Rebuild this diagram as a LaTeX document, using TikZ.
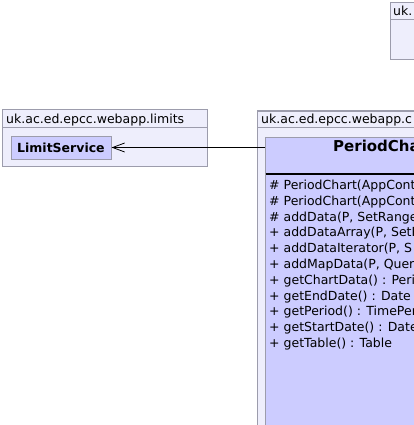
\documentclass[tikz,border=0pt]{standalone}
\usepackage{fontspec}
\setmainfont{DejaVu Sans}
\usetikzlibrary{arrows.meta}
\definecolor{pkgfill}{HTML}{EEEEFC}
\definecolor{clsfill}{HTML}{CCCCFF}
\definecolor{bord}{HTML}{9C9CAC}
\begin{document}
\begin{tikzpicture}[x=1pt,y=-1pt,
  pkg/.style={draw=bord, fill=pkgfill, line width=1pt},
  txt/.style={inner sep=0pt, anchor=base west, font=\fontsize{12.5}{15}\selectfont},
  btxt/.style={inner sep=0pt, anchor=base west, font=\fontsize{12.5}{15}\selectfont\bfseries},
  ttl/.style={inner sep=0pt, anchor=base west, font=\fontsize{15}{18}\selectfont\bfseries},
  clsbox/.style={draw=bord, fill=clsfill, line width=1pt, inner sep=0pt}]
\useasboundingbox (0,0) rectangle (414,425);
% top-right package
\draw[pkg] (390,3) rectangle (460,20);
\draw[pkg] (390,20) rectangle (460,60);
\node[txt] (pkgtop) at (393,16) {uk.};
% limits package
\draw[pkg] (2,110) rectangle (207,127);
\draw[pkg] (2,127) rectangle (207,166);
\node[txt] (pkglim) at (6,123.5) {uk.ac.ed.epcc.webapp.limits};
\node[clsbox, minimum width=100pt, minimum height=23pt] (ls) at (61,147.5) {};
\node[btxt] (lstext) at (17,152) {LimitService};
% chart package
\draw[pkg] (257,111) rectangle (480,127);
\draw[pkg] (257,127) rectangle (480,470);
\node[txt] (pkgch) at (261,123.5) {uk.ac.ed.epcc.webapp.c};
\node[clsbox, anchor=north west, minimum width=240pt, minimum height=320pt] (pc) at (265,137) {};
\node[ttl] (pctitle) at (333,151.5) {PeriodCha};
\draw[line width=2pt] (265.5,174) -- (505,174);
\foreach \t [count=\i from 0] in {%
  {\# PeriodChart(AppCont},
  {\# PeriodChart(AppCont},
  {\# addData(P, SetRange},
  {+ addDataArray(P, SetR},
  {+ addDataIterator(P, S},
  {+ addMapData(P, Quer},
  {+ getChartData() : Peri},
  {+ getEndDate() : Date},
  {+ getPeriod() : TimePer},
  {+ getStartDate() : Date},
  {+ getTable() : Table}}
  \node[txt] (m\i) at (269,189.5+15.8*\i) {\t};
% dependency arrow
\draw[-{Straight Barb[length=12pt,width=9pt]}, line width=0.8pt] (ls.east -| pc.west) -- (ls.east);
\end{tikzpicture}
\end{document}
